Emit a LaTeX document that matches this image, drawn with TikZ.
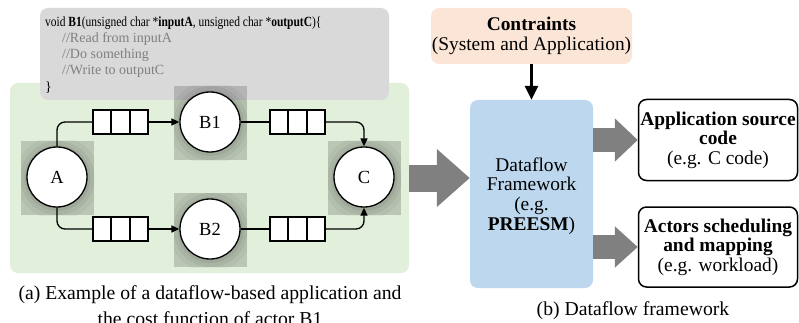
\documentclass[tikz,border=0pt]{standalone}
\usepackage{fontspec}
\setmainfont{Liberation Serif}
\usetikzlibrary{arrows.meta,calc}
\definecolor{codegray}{HTML}{D9D9D9}
\definecolor{greenbg}{HTML}{E2EFDA}
\definecolor{bluebg}{HTML}{BDD7EE}
\definecolor{peach}{HTML}{FBE5D6}
\definecolor{commentgray}{HTML}{808080}
\definecolor{fatgray}{HTML}{808080}
\begin{document}
\begin{tikzpicture}[x=1pt,y=-1pt,
  actor/.style={circle, draw, line width=1.3pt, fill=white, minimum size=60pt, inner sep=0pt, font=\fontsize{18.5}{18.5}\selectfont},
  fifo/.style={rectangle, draw, line width=1.3pt, fill=white, minimum width=55pt, minimum height=24pt, inner sep=0pt},
  edge/.style={line width=1.3pt, rounded corners=8pt},
  tipped/.style={-{Triangle[length=8pt,width=7pt]}},
  bigtext/.style={font=\fontsize{19.4}{19.6}\selectfont, align=center, inner sep=0pt},
  captext/.style={font=\fontsize{19.7}{20}\selectfont, align=center, inner sep=0pt},
  codefont/.style={font=\fontsize{14}{16}\selectfont, inner sep=0pt},
  fat/.style={draw=fatgray},
]
\useasboundingbox (0,0) rectangle (799,323);

% backgrounds
\node[fill=greenbg, rounded corners=8pt, minimum width=399pt, minimum height=190pt, inner sep=0pt] (grn) at (209.5,178) {};
\node[fill=codegray, rounded corners=8pt, minimum width=349pt, minimum height=92pt, inner sep=0pt] (code) at (214.5,54) {};

% code text
\node[codefont, anchor=base west] (l1) at (45,27) {\scalebox{0.82}[1]{void \textbf{B1}(unsigned char *\textbf{inputA}, unsigned char *\textbf{outputC})\{}};
\node[codefont, anchor=base west, text=commentgray] (l2) at (62,43) {//Read from inputA};
\node[codefont, anchor=base west, text=commentgray] (l3) at (62,59) {//Do something};
\node[codefont, anchor=base west, text=commentgray] (l4) at (62,75) {//Write to outputC};
\node[codefont, anchor=base west] (l5) at (45,92) {\}};

% positions
\coordinate (pA) at (57,177);
\coordinate (pB1) at (210,122);
\coordinate (pB2) at (210,229);
\coordinate (pC) at (364,177);

% soft shadows behind the actors
\foreach \p in {pA,pB1,pB2,pC}{
  \begin{scope}
    \clip ($(\p)+(-36,-36)$) rectangle ($(\p)+(37,38)$);
    \fill[black, fill opacity=0.17] ($(\p)+(-36,-36)$) rectangle ($(\p)+(37,38)$);
    \fill[black, fill opacity=0.04] ($(\p)+(0.5,1)$) circle (42);
    \fill[black, fill opacity=0.05] ($(\p)+(0.5,1)$) circle (37);
    \fill[black, fill opacity=0.06] ($(\p)+(0.5,1)$) circle (33);
  \end{scope}
}

% fifos
\node[fifo] (q1) at (120.5,122) {};
\node[fifo] (q2) at (297.5,122) {};
\node[fifo] (q3) at (120.5,229) {};
\node[fifo] (q4) at (297.5,229) {};
\foreach \q in {q1,q2,q3,q4}{
  \draw[line width=1.3pt] ($(\q.north west)!1/3!(\q.north east)$) -- ($(\q.south west)!1/3!(\q.south east)$);
  \draw[line width=1.3pt] ($(\q.north west)!2/3!(\q.north east)$) -- ($(\q.south west)!2/3!(\q.south east)$);
}

% actors
\node[actor] (A) at (pA) {A};
\node[actor] (B1) at (pB1) {B1};
\node[actor] (B2) at (pB2) {B2};
\node[actor] (C) at (pC) {C};

% edges
\draw[edge] (A.north) |- (q1.west);
\draw[edge, tipped] (q1.east) -- (B1.west);
\draw[edge] (B1.east) -- (q2.west);
\draw[edge, tipped] (q2.east) -| (C.north);
\draw[edge] (A.south) |- (q3.west);
\draw[edge, tipped] (q3.east) -- (B2.west);
\draw[edge] (B2.east) -- (q4.west);
\draw[edge, tipped] (q4.east) -| (C.south);

% framework side
\node[fill=bluebg, rounded corners=8pt, minimum width=123pt, minimum height=188pt] (df) at (531.5,194) {};
\node[bigtext] (dftext) at (531.5,196) {Dataflow\\Framework\\(e.g.\\\textbf{PREESM})};
\node[fill=peach, rounded corners=8pt, minimum width=201pt, minimum height=56pt, bigtext] (con) at (531.5,36) {\textbf{Contraints}\\(System and Application)};
\node[draw, line width=1.5pt, rounded corners=8pt, fill=white, minimum width=159pt, minimum height=81pt, bigtext] (out1) at (718,140) {\textbf{Application source}\\\textbf{code}\\(e.g. C code)};
\node[draw, line width=1.5pt, rounded corners=8pt, fill=white, minimum width=159pt, minimum height=80pt, bigtext] (out2) at (718,247) {\textbf{Actors scheduling}\\\textbf{and mapping}\\(e.g. workload)};

\draw[line width=2.5pt, -{Triangle[length=14pt,width=13pt]}] (con.south) -- (df.north);

% fat arrows
\draw[fat, line width=27pt, -{Triangle[length=33pt,width=56pt]}] (grn.east) -- (grn.east -| df.west);
\draw[fat, line width=24pt, -{Triangle[length=23pt,width=42pt]}] (df.east |- out1.west) -- (out1.west);
\draw[fat, line width=24pt, -{Triangle[length=23pt,width=40pt]}] (df.east |- out2.west) -- (out2.west);

% captions
\node[captext, anchor=base] (capa1) at (210,299) {(a) Example of a dataflow-based application and};
\node[captext, anchor=base] (capa2) at (210,325) {the cost function of actor B1};
\node[captext, anchor=base] (capb) at (633,315) {(b) Dataflow framework};
\end{tikzpicture}
\end{document}
